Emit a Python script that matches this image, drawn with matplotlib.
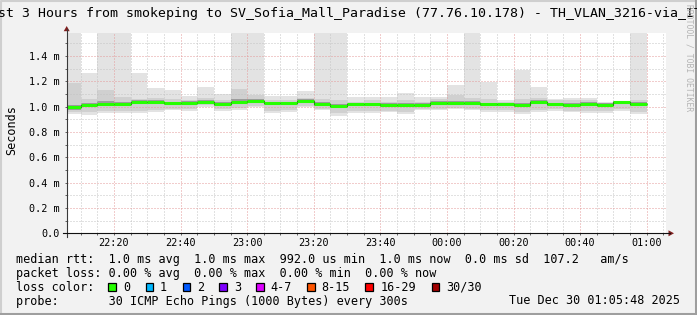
import matplotlib
matplotlib.use('Agg')
import matplotlib.pyplot as plt
from matplotlib.patches import Rectangle, Polygon

# ---------------- data ----------------
window_start = "22:05:48"
window_end = "01:05:48"
bin_ends = ["22:10", "22:15", "22:20", "22:25", "22:30", "22:35", "22:40", "22:45",
            "22:50", "22:55", "23:00", "23:05", "23:10", "23:15", "23:20", "23:25",
            "23:30", "23:35", "23:40", "23:45", "23:50", "23:55", "00:00", "00:05",
            "00:10", "00:15", "00:20", "00:25", "00:30", "00:35", "00:40", "00:45",
            "00:50", "00:55", "01:00"]
# median rtt (ms)
rtt_median = [0.995, 1.016, 1.025, 1.025, 1.035, 1.038, 1.026, 1.029, 1.038, 1.020,
              1.040, 1.046, 1.027, 1.027, 1.045, 1.019, 1.006, 1.019, 1.019, 1.016,
              1.013, 1.013, 1.029, 1.029, 1.029, 1.019, 1.019, 1.016, 1.035, 1.019,
              1.016, 1.021, 1.016, 1.035, 1.019]
# slowest / fastest ping (ms)
rtt_max = [1.80, 1.268, 1.80, 1.80, 1.268, 1.148, 1.132, 1.083, 1.156, 1.103,
           1.80, 1.80, 1.085, 1.085, 1.127, 1.80, 1.80, 1.074, 1.074, 1.074,
           1.106, 1.074, 1.079, 1.174, 1.80, 1.198, 1.053, 1.290, 1.156, 1.063,
           1.071, 1.071, 1.040, 1.048, 1.80]
rtt_min = [0.942, 0.934, 0.953, 0.953, 0.953, 0.961, 0.974, 0.969, 1.000, 0.969,
           0.974, 0.995, 0.953, 0.961, 0.995, 0.974, 0.929, 0.953, 0.953, 0.956,
           0.942, 0.974, 0.974, 0.979, 0.974, 0.961, 0.961, 0.942, 0.961, 0.969,
           0.956, 0.953, 0.953, 0.969, 0.942]
# second slowest / fastest ping (ms)
rtt_hi2 = [1.19, 1.06, 1.13, 1.08, 1.06, 1.07, 1.06, 1.05, 1.07, 1.05,
           1.14, 1.09, 1.05, 1.05, 1.07, 1.06, 1.05, 1.04, 1.05, 1.04,
           1.05, 1.04, 1.06, 1.09, 1.07, 1.06, 1.04, 1.06, 1.07, 1.05,
           1.05, 1.05, 1.03, 1.045, 1.05]
rtt_lo2 = [0.960, 0.955, 0.970, 0.970, 0.970, 0.975, 0.985, 0.980, 1.010, 0.985,
           0.990, 1.005, 0.970, 0.975, 1.005, 0.985, 0.950, 0.970, 0.970, 0.970,
           0.960, 0.985, 0.985, 0.990, 0.985, 0.975, 0.975, 0.960, 0.975, 0.980,
           0.970, 0.970, 0.970, 0.980, 0.960]
# inner pings (ms)
rtt_q_hi = [1.015, 1.030, 1.045, 1.040, 1.050, 1.052, 1.040, 1.042, 1.052, 1.034,
            1.058, 1.062, 1.040, 1.040, 1.058, 1.034, 1.022, 1.032, 1.033, 1.030,
            1.028, 1.027, 1.044, 1.046, 1.045, 1.033, 1.032, 1.032, 1.050, 1.032,
            1.030, 1.036, 1.029, 1.047, 1.034]
rtt_q_lo = [0.978, 0.998, 1.008, 1.008, 1.018, 1.020, 1.010, 1.012, 1.022, 1.004,
            1.022, 1.030, 1.010, 1.010, 1.030, 1.002, 0.988, 1.002, 1.002, 1.000,
            0.996, 0.997, 1.012, 1.012, 1.012, 1.002, 1.002, 0.998, 1.018, 1.003,
            1.000, 1.004, 1.000, 1.020, 1.002]

x_tick_labels = ["22:20", "22:40", "23:00", "23:20", "23:40", "00:00", "00:20", "00:40", "01:00"]
y_tick_values = [0.0, 0.2, 0.4, 0.6, 0.8, 1.0, 1.2, 1.4]
y_tick_labels = ["0.0", "0.2 m", "0.4 m", "0.6 m", "0.8 m", "1.0 m", "1.2 m", "1.4 m"]

title = "st 3 Hours from smokeping to SV_Sofia_Mall_Paradise (77.76.10.178) - TH_VLAN_3216-via_IT"
legend_rtt = "median rtt:  1.0 ms avg  1.0 ms max  992.0 us min  1.0 ms now  0.0 ms sd  107.2   am/s"
legend_loss = "packet loss: 0.00 % avg  0.00 % max  0.00 % min  0.00 % now"
loss_labels = ["0", "1", "2", "3", "4-7", "8-15", "16-29", "30/30"]
loss_colors = ["#26ff00", "#00b8ff", "#0059ff", "#7e00ff", "#dd00ff", "#ff5500", "#ff0000", "#a10000"]
probe_text = "probe:       30 ICMP Echo Pings (1000 Bytes) every 300s"
date_text = "Tue Dec 30 01:05:48 2025"


def to_min(s):
    p = [int(v) for v in s.split(":")]
    m = p[0] * 60 + p[1] + (p[2] / 60 if len(p) > 2 else 0)
    return (m - 22 * 60) % 1440


t0 = to_min(window_start)
t1 = to_min(window_end)
ends = [to_min(s) for s in bin_ends]
starts = [t0] + ends[:-1]
widths = [e - s for s, e in zip(starts, ends)]

# ---------------- figure ----------------
W, H = 697, 315
fig = plt.figure(figsize=(W / 100, H / 100), dpi=100)
fig.patch.set_facecolor("#f2f2f2")
MONO = "DejaVu Sans Mono"

L, R, T, B = 66.7, 666.0, 32.7, 233.3
ax = fig.add_axes([L / W, 1 - B / H, (R - L) / W, (B - T) / H])
ax.set_facecolor("white")
ax.set_xlim(t0, t1)
ax.set_ylim(0, 1.585)

# smoke layers
layers = [(rtt_min, rtt_max, "#e3e3e3"),
          (rtt_lo2, rtt_hi2, "#d0d0d0"),
          (rtt_q_lo, rtt_q_hi, "#9c9c9c")]
for lo, hi, col in layers:
    ax.bar(starts, [h - l for l, h in zip(lo, hi)], width=widths, bottom=lo,
           align="edge", color=col, linewidth=0, zorder=1)

# median
edges = [t0] + ends
ax.stairs(rtt_median, edges, baseline=None, color="#202020", linewidth=0.8, zorder=3)
ax.hlines(rtt_median, starts, ends, color=loss_colors[0], linewidth=2.2, zorder=4)

# grid
ax.set_xticks([to_min(s) for s in x_tick_labels])
ax.set_xticklabels(x_tick_labels, fontfamily=MONO, fontsize=7.3)
ax.set_xticks([to_min(s) for s in bin_ends] + [to_min("01:05")], minor=True)
ax.set_yticks(y_tick_values)
ax.set_yticklabels(y_tick_labels, fontfamily=MONO, fontsize=7.3)
ax.set_yticks([0.1, 0.3, 0.5, 0.7, 0.9, 1.1, 1.3, 1.5], minor=True)
ax.set_axisbelow(False)
ax.grid(which="minor", color="#c4c4c4", linestyle=(0, (1, 2)), linewidth=0.72)
ax.grid(which="major", color="#e49a9a", linestyle=(0, (1, 2)), linewidth=0.72)
ax.tick_params(which="both", direction="out", length=1.6, width=0.7, color="#606060")
ax.tick_params(axis="y", which="both", pad=3.4)
ax.tick_params(axis="x", which="both", pad=1.6)
for s in ax.spines.values():
    s.set_visible(False)

# ---------------- overlay (pixel coords) ----------------
ov = fig.add_axes([0, 0, 1, 1])
ov.set_xlim(0, W)
ov.set_ylim(H, 0)
ov.set_axis_off()
ov.patch.set_alpha(0)

# 3D frame
ov.plot([0.5, 0.5, W - 1], [H - 1, 0.5, 0.5], color="#cfcfcf", linewidth=1.5)
ov.plot([1, W - 1, W - 1], [H - 1.5, H - 1.5, 1], color="#9e9e9e", linewidth=2.2)

# axes lines and arrows
ov.plot([L, L], [B + 3.5, 29], color="#3a3a3a", linewidth=0.8)
ov.plot([L - 4, 670], [B, B], color="#111111", linewidth=0.8)
ov.add_patch(Polygon([[L - 3, 31.2], [L + 3, 31.2], [L, 26]], closed=True, color="#801f1f", lw=0))
ov.add_patch(Polygon([[668.5, B - 3], [668.5, B + 3], [674, B]], closed=True, color="#801f1f", lw=0))

# title
ov.text(-1.5, 13.5, title, fontfamily=MONO, fontsize=9.5, ha="left", va="center")
# unit label
ov.text(12, 130, "Seconds", fontfamily=MONO, fontsize=8.5, rotation=90, ha="center", va="center")
# watermark
ov.text(688.5, 58, "RRDTOOL / TOBI OETIKER", fontfamily=MONO, fontsize=5.8, rotation=270,
        ha="center", va="center", color="#b4b4b4")

# legend
LX = 16
FS = 8.5
ov.text(LX, 259.3, legend_rtt, fontfamily=MONO, fontsize=FS, ha="left", va="center")
ov.text(LX, 273.3, legend_loss, fontfamily=MONO, fontsize=FS, ha="left", va="center")
ov.text(LX, 287.3, "loss color:", fontfamily=MONO, fontsize=FS, ha="left", va="center")
box_x = [108.3, 145.7, 182.7, 219.3, 256.0, 307.3, 365.0, 431.7]
lab_x = [123.3, 160.0, 196.7, 234.0, 270.7, 321.7, 380.7, 445.7]
for bx, tx, lab, col in zip(box_x, lab_x, loss_labels, loss_colors):
    ov.add_patch(Rectangle((bx, 283.3), 7.6, 8.0, facecolor=col, edgecolor="black", linewidth=0.9))
    ov.text(tx, 287.3, lab, fontfamily=MONO, fontsize=FS, ha="left", va="center")
ov.text(LX, 301.0, probe_text, fontfamily=MONO, fontsize=FS, ha="left", va="center")
ov.text(680, 301.0, date_text, fontfamily=MONO, fontsize=FS, ha="right", va="center")

fig.savefig("out.png", dpi=100, facecolor=fig.get_facecolor())
